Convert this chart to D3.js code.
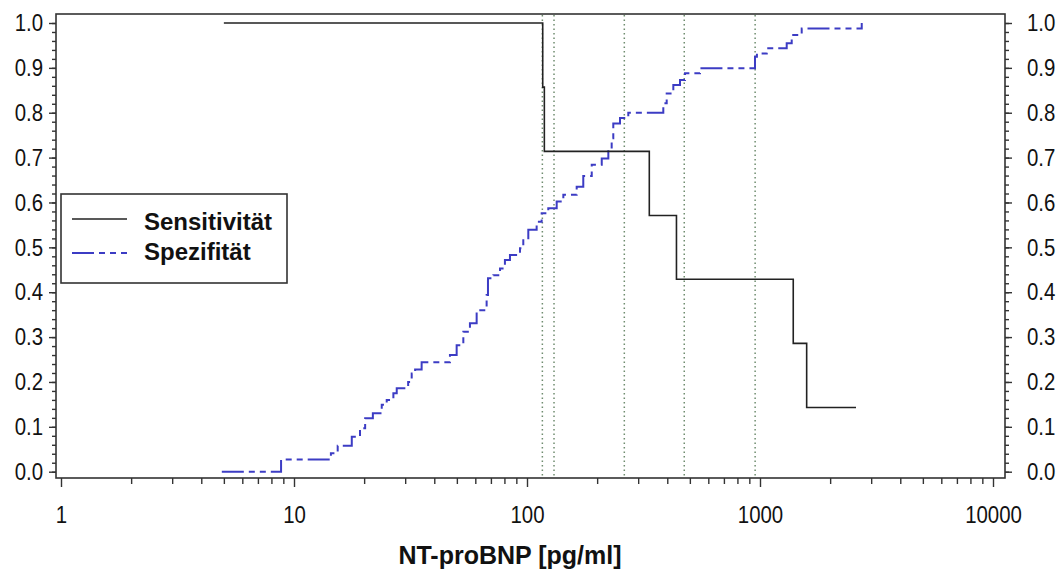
<html><head>
  <script src="https://d3js.org/d3.v7.min.js"></script>
  <style>
    body { margin: 0; background: #fff; }
    .tick text { font-family: 'Liberation Sans', Arial, sans-serif; font-size: 24px; fill: #111; }
    .tick line { stroke: #333; stroke-width: 1.4; }
    .lbl { font-family: 'Liberation Sans', Arial, sans-serif; font-weight: bold; fill: #111; }
  </style>
</head>
<body>
  <script>
    // Sensitivity step curve (NT-proBNP cut-off, value)
    const sensX = [5, 116.8, 118.7, 334.9, 438, 1389, 1586, 2583];
    const sensY = [1, 0.857, 0.714, 0.571, 0.429, 0.286, 0.143, 0.143];

    // Specificity step curve
    const specX = [4.9, 8.8, 14.4, 15.4, 17.7, 19.2, 20.2, 21.8, 23.8, 25.0, 26.7, 27.6, 30.9, 32.0, 33.1, 35.3,
                   46.7, 49.9, 53.3, 56.9, 60.8, 67.1, 68.0, 71.7, 76.6, 80.4, 84.5, 93.3, 96.4, 101.3, 110.0,
                   115.6, 123.4, 134.1, 143.2, 163.4, 174.4, 189.6, 209.3, 223.4, 230.9, 234.6, 250.7, 272.1,
                   384.6, 397.7, 424.6, 453.6, 476.6, 552.7, 951.7, 970, 1069, 1302, 1368, 1510, 2733];
    const specY = [0, 0.027, 0.041, 0.058, 0.078, 0.097, 0.119, 0.13, 0.149, 0.16, 0.175, 0.186, 0.2, 0.219, 0.228, 0.244,
                   0.26, 0.282, 0.312, 0.331, 0.36, 0.394, 0.431, 0.438, 0.453, 0.472, 0.483, 0.498, 0.516, 0.539, 0.557,
                   0.576, 0.587, 0.602, 0.617, 0.635, 0.659, 0.684, 0.698, 0.717, 0.743, 0.776, 0.788, 0.8,
                   0.821, 0.843, 0.862, 0.873, 0.888, 0.899, 0.925, 0.932, 0.944, 0.955, 0.973, 0.988, 1.0];

    // dotted reference cut-offs
    const cutoffs = [116.4, 130.6, 261.6, 473, 953];

    const xTicks = [1, 10, 100, 1000, 10000];
    const yTicks = [0, 0.1, 0.2, 0.3, 0.4, 0.5, 0.6, 0.7, 0.8, 0.9, 1.0];
    const seriesNames = ["Sensitivität", "Spezifität"];
    const xTitle = "NT-proBNP [pg/ml]";

    const width = 1061, height = 570;
    const frame = {left: 56, right: 1005, top: 14, bottom: 478};

    const svg = d3.select("body").append("svg")
                  .attr("width", width).attr("height", height);

    const x = d3.scaleLog().domain([1, 10000]).range([61, 993]);
    const y = d3.scaleLinear().domain([0, 1]).range([471.7, 23]);

    const minorX = [];
    [1, 10, 100, 1000].forEach(d => { for (let k = 2; k <= 9; k++) minorX.push(d * k); });
    const minorY = d3.range(0, 51).map(i => i / 50);

    // dotted cut-off lines
    svg.append("g").selectAll("line").data(cutoffs).join("line")
       .attr("x1", d => x(d)).attr("x2", d => x(d))
       .attr("y1", frame.top + 1).attr("y2", frame.bottom)
       .style("stroke", "#6f8c6f").style("stroke-width", 1.5)
       .style("stroke-dasharray", "1.5,3");

    const squeeze = 0.85;

    // x axis
    const xMajor = svg.append("g").attr("transform", `translate(0,${frame.bottom})`)
       .call(d3.axisBottom(x).tickValues(xTicks).tickSize(9).tickPadding(19).tickFormat(d3.format("d")));
    xMajor.selectAll("text").attr("transform", `scale(${squeeze},1)`);
    svg.append("g").attr("transform", `translate(0,${frame.bottom})`)
       .call(d3.axisBottom(x).tickValues(minorX).tickSize(6).tickFormat(""));

    // left y axis
    const yLeft = svg.append("g").attr("transform", `translate(${frame.left},0)`)
       .call(d3.axisLeft(y).tickValues(yTicks).tickSize(7).tickFormat(d3.format(".1f")));
    yLeft.selectAll("text").attr("x", null)
       .attr("transform", `translate(-13,0) scale(${squeeze},1)`);
    svg.append("g").attr("transform", `translate(${frame.left},0)`)
       .call(d3.axisLeft(y).tickValues(minorY).tickSize(4).tickFormat(""));

    // right y axis
    const yRight = svg.append("g").attr("transform", `translate(${frame.right},0)`)
       .call(d3.axisRight(y).tickValues(yTicks).tickSize(7).tickFormat(d3.format(".1f")));
    yRight.selectAll("text").attr("x", null)
       .attr("transform", `translate(22,0) scale(${squeeze},1)`);
    svg.append("g").attr("transform", `translate(${frame.right},0)`)
       .call(d3.axisRight(y).tickValues(minorY).tickSize(4).tickFormat(""));

    svg.selectAll(".domain").remove();

    // frame
    svg.append("rect")
       .attr("x", frame.left).attr("y", frame.top)
       .attr("width", frame.right - frame.left).attr("height", frame.bottom - frame.top)
       .style("fill", "none").style("stroke", "#333").style("stroke-width", 1.6);

    const stepLine = d3.line().x(d => x(d[0])).y(d => y(d[1])).curve(d3.curveStepAfter);

    const specStyle = {stroke: "#3c3cc4", width: 2, dash: "22,5,6,5,6,5"};

    svg.append("path").datum(d3.zip(specX, specY))
       .attr("d", stepLine)
       .style("fill", "none").style("stroke", specStyle.stroke)
       .style("stroke-width", specStyle.width).style("stroke-dasharray", specStyle.dash);

    svg.append("path").datum(d3.zip(sensX, sensY))
       .attr("d", stepLine)
       .style("fill", "none").style("stroke", "#222").style("stroke-width", 1.6);

    // legend
    const legend = svg.append("g");
    legend.append("rect").attr("x", 61).attr("y", 194).attr("width", 226).attr("height", 89)
          .style("fill", "#fff").style("stroke", "#333").style("stroke-width", 1.6);
    const legendRows = [
      {name: seriesNames[0], y: 219, stroke: "#222", dash: null, w: 1.6, ty: 230},
      {name: seriesNames[1], y: 253, stroke: specStyle.stroke, dash: specStyle.dash, w: 2, ty: 260}
    ];
    legendRows.forEach(r => {
      legend.append("line").attr("x1", 72).attr("x2", 127).attr("y1", r.y).attr("y2", r.y)
            .style("stroke", r.stroke).style("stroke-width", r.w)
            .style("stroke-dasharray", r.dash);
      legend.append("text").attr("class", "lbl").attr("x", 144).attr("y", r.ty)
            .style("font-size", "24px").text(r.name);
    });

    // x title
    svg.append("text").attr("class", "lbl")
       .attr("x", 510).attr("y", 564).attr("text-anchor", "middle")
       .style("font-size", "25px").text(xTitle);
  </script>
</body></html>
